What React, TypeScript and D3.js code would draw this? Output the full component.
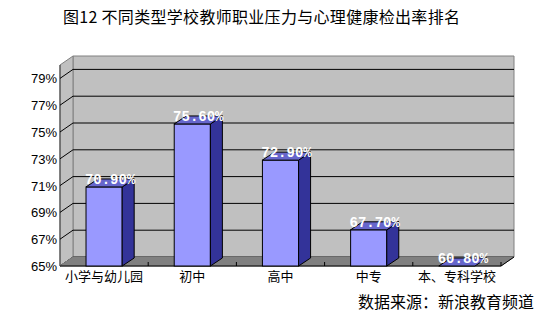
import React from "react";
import * as d3 from "d3";

const categories = ["小学与幼儿园", "初中", "高中", "中专", "本、专科学校"];
const values = [70.9, 75.6, 72.9, 67.7, 60.8];
const valueLabels = ["70.90%", "75.60%", "72.90%", "67.70%", "60.80%"];
const yTicks = [65, 67, 69, 71, 73, 75, 77, 79];
const title = "图12  不同类型学校教师职业压力与心理健康检出率排名";
const source = "数据来源：新浪教育频道";

const W = 545, H = 322;
const DX = 13, DY = -9;     // wall depth
const BDX = 12, BDY = -8;   // bar depth

export default function App() {
  const x = d3.scaleBand<string>().domain(categories).range([60, 501]).padding(0);
  const y = d3.scaleLinear().domain([65, 80]).range([266, 65]);
  const bw = x.bandwidth() * 0.41;
  const x0 = 60, x1 = 501, yb = y(65), yt = y(80);
  const pts = (a: number[][]) => a.map((p) => p.join(",")).join(" ");

  return (
    <svg width={W} height={H} style={{ position: "absolute", left: 0, top: 0, background: "#fff" }}
      fontFamily="'Liberation Sans', Arial, sans-serif">
      <rect width={W} height={H} fill="#fff" />
      <text x={63} y={23} fontSize={16} textLength={397} lengthAdjust="spacing"
        fontFamily="'Noto Sans CJK SC', sans-serif" fill="#000">{title}</text>
      {/* back wall */}
      <polygon points={pts([[x0 + DX, yt + DY], [x1 + DX, yt + DY], [x1 + DX, yb + DY], [x0 + DX, yb + DY]])}
        fill="#c0c0c0" stroke="#808080" strokeWidth={1} />
      {/* left wall */}
      <polygon points={pts([[x0, yt], [x0 + DX, yt + DY], [x0 + DX, yb + DY], [x0, yb]])}
        fill="#c0c0c0" stroke="#808080" strokeWidth={1} />
      <line x1={x0} y1={yt} x2={x0} y2={yb} stroke="#404040" />
      {/* gridlines */}
      {yTicks.map((t) => (
        <g key={t}>
          <line x1={x0 + DX} x2={x1 + DX} y1={y(t) + DY} y2={y(t) + DY} stroke="#000" />
          <line x1={x0} x2={x0 + DX} y1={y(t)} y2={y(t) + DY} stroke="#000" />
        </g>
      ))}
      {/* floor */}
      <polygon points={pts([[x0, yb], [x1, yb], [x1 + DX, yb + DY], [x0 + DX, yb + DY]])}
        fill="#808080" stroke="#808080" />
      <line x1={x0} x2={x1} y1={yb} y2={yb} stroke="#000" />
      <line x1={x1} y1={yb} x2={x1 + DX} y2={yb + DY} stroke="#000" />
      {categories.map((c) => (
        <line key={c} x1={(x(c) as number) + x.bandwidth()} x2={(x(c) as number) + x.bandwidth()}
          y1={yb} y2={yb - 4} stroke="#000" />
      ))}
      {/* bars */}
      {categories.map((c, i) => {
        const cx = (x(c) as number) + x.bandwidth() / 2;
        const l = cx - bw / 2, r = cx + bw / 2;
        const top = y(Math.max(65, values[i]));
        return (
          <g key={c}>
            {top < yb && (
              <>
                <rect x={l} y={top} width={bw} height={yb - top} fill="#9999ff" stroke="#000" />
                <polygon points={pts([[r, top], [r + BDX, top + BDY], [r + BDX, yb + BDY], [r, yb]])}
                  fill="#333399" stroke="#000" />
              </>
            )}
            <polygon points={pts([[l, top], [r, top], [r + BDX, top + BDY], [l + BDX, top + BDY]])}
              fill="#6666cc" stroke="#000" />
            <text x={cx + BDX / 2} y={top + BDY + 5} textAnchor="middle" fontSize={14} fontWeight="bold"
              fontFamily="'Liberation Mono', monospace" fill="#fff">{valueLabels[i]}</text>
          </g>
        );
      })}
      {/* y labels */}
      {yTicks.map((t) => (
        <text key={t} x={57} y={y(t) + 5} textAnchor="end" fontSize={13} fill="#000">{t}%</text>
      ))}
      {/* category labels */}
      {categories.map((c) => (
        <text key={c} x={(x(c) as number) + x.bandwidth() / 2} y={281} textAnchor="middle" fontSize={13}
          fontFamily="'Noto Sans CJK SC', sans-serif" fill="#000">{c}</text>
      ))}
      <text x={358} y={308} fontSize={16} fontFamily="'Noto Sans CJK SC', sans-serif" fill="#000">{source}</text>
    </svg>
  );
}
